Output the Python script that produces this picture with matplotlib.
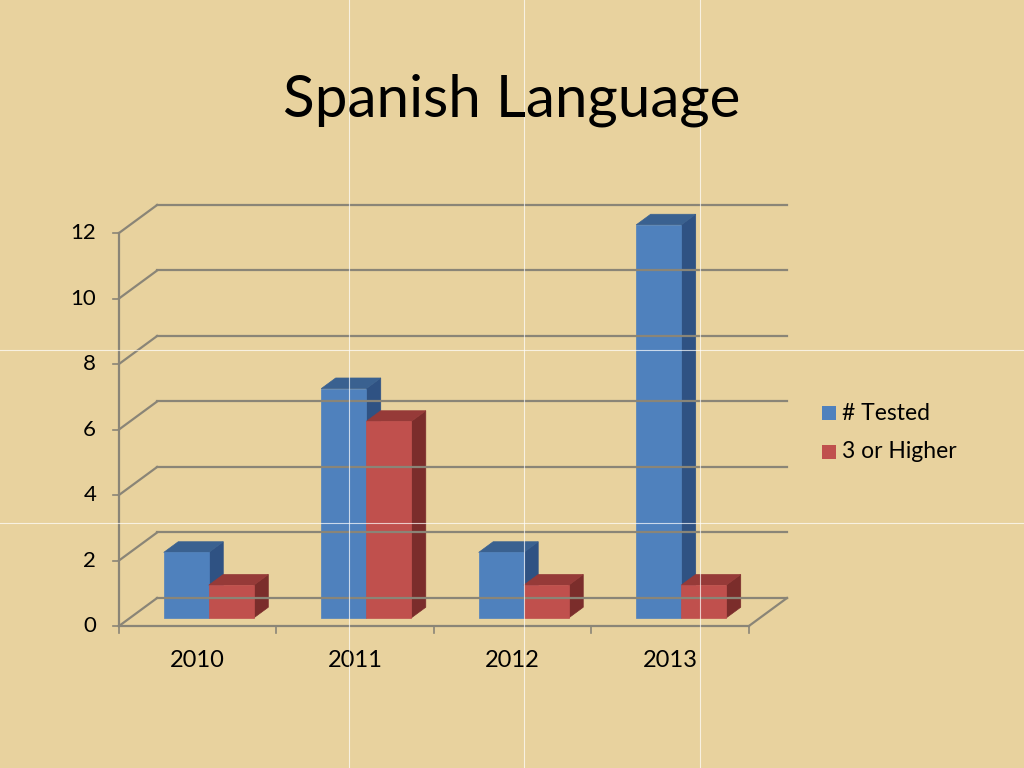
import numpy as np
import matplotlib.pyplot as plt
from matplotlib.patches import Polygon, Rectangle

# === Data ===
years = ['2010', '2011', '2012', '2013']
tested = [2, 7, 2, 12]
higher = [1, 6, 1, 1]
series_names = ['# Tested', '3 or Higher']
y_ticks = [0, 2, 4, 6, 8, 10, 12]

# === Style ===
plt.rcParams['font.family'] = ['Lato', 'DejaVu Sans']
bg = '#E8D29E'
grid_col = '#8A8577'
face = {'blue': ('#4F81BD', '#3A6190', '#2F5283'),
        'red': ('#C0504D', '#963A38', '#7B2D2B')}  # front, top, side

# 3D look: depth offset of the back wall in data units
DX, DY = 0.242, 0.855
F1, F2 = 0.29, 0.67     # bar depth, as fraction of the wall depth
BW = 0.286              # bar width in category units

fig = plt.figure(figsize=(10.24, 7.68), dpi=100)
fig.patch.set_facecolor(bg)

# tile seams of the background
for xs in [349, 524, 700]:
    fig.add_artist(plt.Line2D([xs / 1024] * 2, [0, 1], color='white', lw=0.8, alpha=0.7))
for ys in [350, 523]:
    fig.add_artist(plt.Line2D([0, 1], [1 - ys / 768] * 2, color='white', lw=0.8, alpha=0.7))

fig.text(0.5, 1 - 100 / 768, 'Spanish Language', ha='center', va='center', fontsize=42)

ax = fig.add_axes([119 / 1024, 1 - 626 / 768, (787 - 119) / 1024, (626 - 205) / 768])
ax.set_xlim(0, len(years) + DX)
ax.set_ylim(0, max(y_ticks) + DY)
ax.axis('off')

n = len(years)
# back wall gridlines and left wall diagonals
for v in y_ticks:
    ax.plot([DX, n + DX], [v + DY, v + DY], color=grid_col, lw=1.6, clip_on=False)
    ax.plot([0, DX], [v, v + DY], color=grid_col, lw=1.6, clip_on=False)
    ax.plot([-0.04, 0], [v, v], color=grid_col, lw=1.2, clip_on=False)
    ax.text(-0.145, v, str(v), ha='right', va='center', fontsize=16)
# front axis and floor
ax.plot([0, 0], [0, max(y_ticks)], color=grid_col, lw=1.6, clip_on=False)
ax.plot([0, n], [0, 0], color=grid_col, lw=1.6, clip_on=False)
ax.plot([n, n + DX], [0, DY], color=grid_col, lw=1.6, clip_on=False)
for i in range(n + 1):
    ax.plot([i, i], [0, -0.2], color=grid_col, lw=1.2, clip_on=False)
for i, yr in enumerate(years):
    ax.text(i + 0.5, -1.05, yr, ha='center', va='center', fontsize=17)


def draw_bar(x0, h, colors):
    fr, tp, sd = colors
    ox, oy = DX * F1, DY * F1
    ddx, ddy = DX * (F2 - F1), DY * (F2 - F1)
    xa, xb = x0 + ox, x0 + BW + ox
    side = [(xb, oy), (xb + ddx, oy + ddy), (xb + ddx, h + oy + ddy), (xb, h + oy)]
    top = [(xa, h + oy), (xb, h + oy), (xb + ddx, h + oy + ddy), (xa + ddx, h + oy + ddy)]
    front = [(xa, oy), (xb, oy), (xb, h + oy), (xa, h + oy)]
    for pts, c in [(side, sd), (top, tp), (front, fr)]:
        ax.add_patch(Polygon(pts, closed=True, facecolor=c, edgecolor=c, lw=0.5, clip_on=False))


for i in range(n):
    left = i + 0.5 - BW
    draw_bar(left, tested[i], face['blue'])
    draw_bar(left + BW, higher[i], face['red'])

# legend
for k, (name, key) in enumerate(zip(series_names, ['blue', 'red'])):
    yc = 1 - (413 + 39 * k) / 768
    fig.add_artist(Rectangle((822 / 1024, yc - 7 / 768), 14 / 1024, 14 / 768,
                             facecolor=face[key][0], edgecolor='none'))
    fig.text(842 / 1024, yc, name, ha='left', va='center', fontsize=16.5)

fig.savefig('out.png', dpi=100, facecolor=bg)
